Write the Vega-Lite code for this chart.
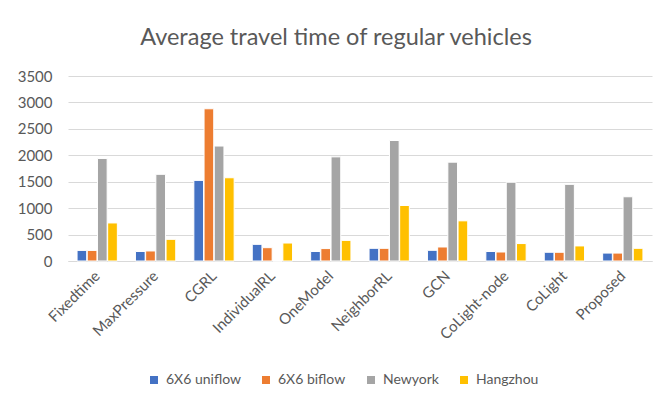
{
  "$schema": "https://vega.github.io/schema/vega-lite/v6.json",
  "autosize": {"type": "none"},
  "padding": {"left": 68, "top": 76, "right": 13, "bottom": 142},
  "width": 584,
  "height": 185,
  "background": "white",
  "title": {
    "text": "Average travel time of regular vehicles",
    "font": "Lato",
    "fontSize": 23.5,
    "fontWeight": "normal",
    "color": "#595959",
    "anchor": "middle",
    "dx": -24,
    "offset": 20
  },
  "data": {
    "values": [
      {"method": "Fixedtime", "scenario": "6X6 uniflow", "time": 200},
      {"method": "Fixedtime", "scenario": "6X6 biflow", "time": 200},
      {"method": "Fixedtime", "scenario": "Newyork", "time": 1940},
      {"method": "Fixedtime", "scenario": "Hangzhou", "time": 720},
      {"method": "MaxPressure", "scenario": "6X6 uniflow", "time": 180},
      {"method": "MaxPressure", "scenario": "6X6 biflow", "time": 190},
      {"method": "MaxPressure", "scenario": "Newyork", "time": 1640},
      {"method": "MaxPressure", "scenario": "Hangzhou", "time": 410},
      {"method": "CGRL", "scenario": "6X6 uniflow", "time": 1525},
      {"method": "CGRL", "scenario": "6X6 biflow", "time": 2880},
      {"method": "CGRL", "scenario": "Newyork", "time": 2175},
      {"method": "CGRL", "scenario": "Hangzhou", "time": 1575},
      {"method": "IndividualRL", "scenario": "6X6 uniflow", "time": 315},
      {"method": "IndividualRL", "scenario": "6X6 biflow", "time": 252},
      {"method": "IndividualRL", "scenario": "Newyork", "time": 0},
      {"method": "IndividualRL", "scenario": "Hangzhou", "time": 340},
      {"method": "OneModel", "scenario": "6X6 uniflow", "time": 180},
      {"method": "OneModel", "scenario": "6X6 biflow", "time": 235},
      {"method": "OneModel", "scenario": "Newyork", "time": 1970},
      {"method": "OneModel", "scenario": "Hangzhou", "time": 390},
      {"method": "NeighborRL", "scenario": "6X6 uniflow", "time": 240},
      {"method": "NeighborRL", "scenario": "6X6 biflow", "time": 240},
      {"method": "NeighborRL", "scenario": "Newyork", "time": 2280},
      {"method": "NeighborRL", "scenario": "Hangzhou", "time": 1050},
      {"method": "GCN", "scenario": "6X6 uniflow", "time": 202},
      {"method": "GCN", "scenario": "6X6 biflow", "time": 265},
      {"method": "GCN", "scenario": "Newyork", "time": 1870},
      {"method": "GCN", "scenario": "Hangzhou", "time": 760},
      {"method": "CoLight-node", "scenario": "6X6 uniflow", "time": 180},
      {"method": "CoLight-node", "scenario": "6X6 biflow", "time": 170},
      {"method": "CoLight-node", "scenario": "Newyork", "time": 1490},
      {"method": "CoLight-node", "scenario": "Hangzhou", "time": 330},
      {"method": "CoLight", "scenario": "6X6 uniflow", "time": 165},
      {"method": "CoLight", "scenario": "6X6 biflow", "time": 165},
      {"method": "CoLight", "scenario": "Newyork", "time": 1450},
      {"method": "CoLight", "scenario": "Hangzhou", "time": 285},
      {"method": "Proposed", "scenario": "6X6 uniflow", "time": 150},
      {"method": "Proposed", "scenario": "6X6 biflow", "time": 150},
      {"method": "Proposed", "scenario": "Newyork", "time": 1215},
      {"method": "Proposed", "scenario": "Hangzhou", "time": 240}
    ]
  },
  "mark": {"type": "bar", "stroke": "white", "strokeWidth": 1},
  "encoding": {
    "x": {
      "field": "method",
      "type": "nominal",
      "sort": null,
      "title": null,
      "scale": {"paddingInner": 0.31, "paddingOuter": 0.155},
      "axis": {
        "labelAngle": -45,
        "labelAlign": "right",
        "labelBaseline": "middle",
        "labelFont": "Lato",
        "labelFontSize": 15,
        "labelColor": "#595959",
        "labelPadding": 12,
        "ticks": false,
        "domainColor": "#D9D9D9",
        "domainWidth": 1
      }
    },
    "xOffset": {
      "field": "scenario",
      "type": "nominal",
      "sort": ["6X6 uniflow", "6X6 biflow", "Newyork", "Hangzhou"],
      "scale": {"paddingInner": 0.05}
    },
    "y": {
      "field": "time",
      "type": "quantitative",
      "title": null,
      "scale": {"domain": [0, 3500]},
      "axis": {
        "values": [0, 500, 1000, 1500, 2000, 2500, 3000, 3500],
        "format": "d",
        "labelFont": "Lato",
        "labelFontSize": 15,
        "labelColor": "#595959",
        "labelPadding": 16,
        "ticks": false,
        "domain": false,
        "gridColor": "#D9D9D9",
        "gridWidth": 1
      }
    },
    "color": {
      "field": "scenario",
      "type": "nominal",
      "sort": ["6X6 uniflow", "6X6 biflow", "Newyork", "Hangzhou"],
      "scale": {
        "domain": ["6X6 uniflow", "6X6 biflow", "Newyork", "Hangzhou"],
        "range": ["#4472C4", "#ED7D31", "#A5A5A5", "#FFC000"]
      },
      "legend": {
        "title": null,
        "orient": "none",
        "direction": "horizontal",
        "legendX": 79,
        "legendY": 297,
        "symbolType": "square",
        "symbolSize": 64,
        "symbolStrokeWidth": 0,
        "labelFont": "Lato",
        "labelFontSize": 14,
        "labelColor": "#595959",
        "columnPadding": 18,
        "labelOffset": 5
      }
    }
  },
  "config": {"view": {"stroke": null}}
}
